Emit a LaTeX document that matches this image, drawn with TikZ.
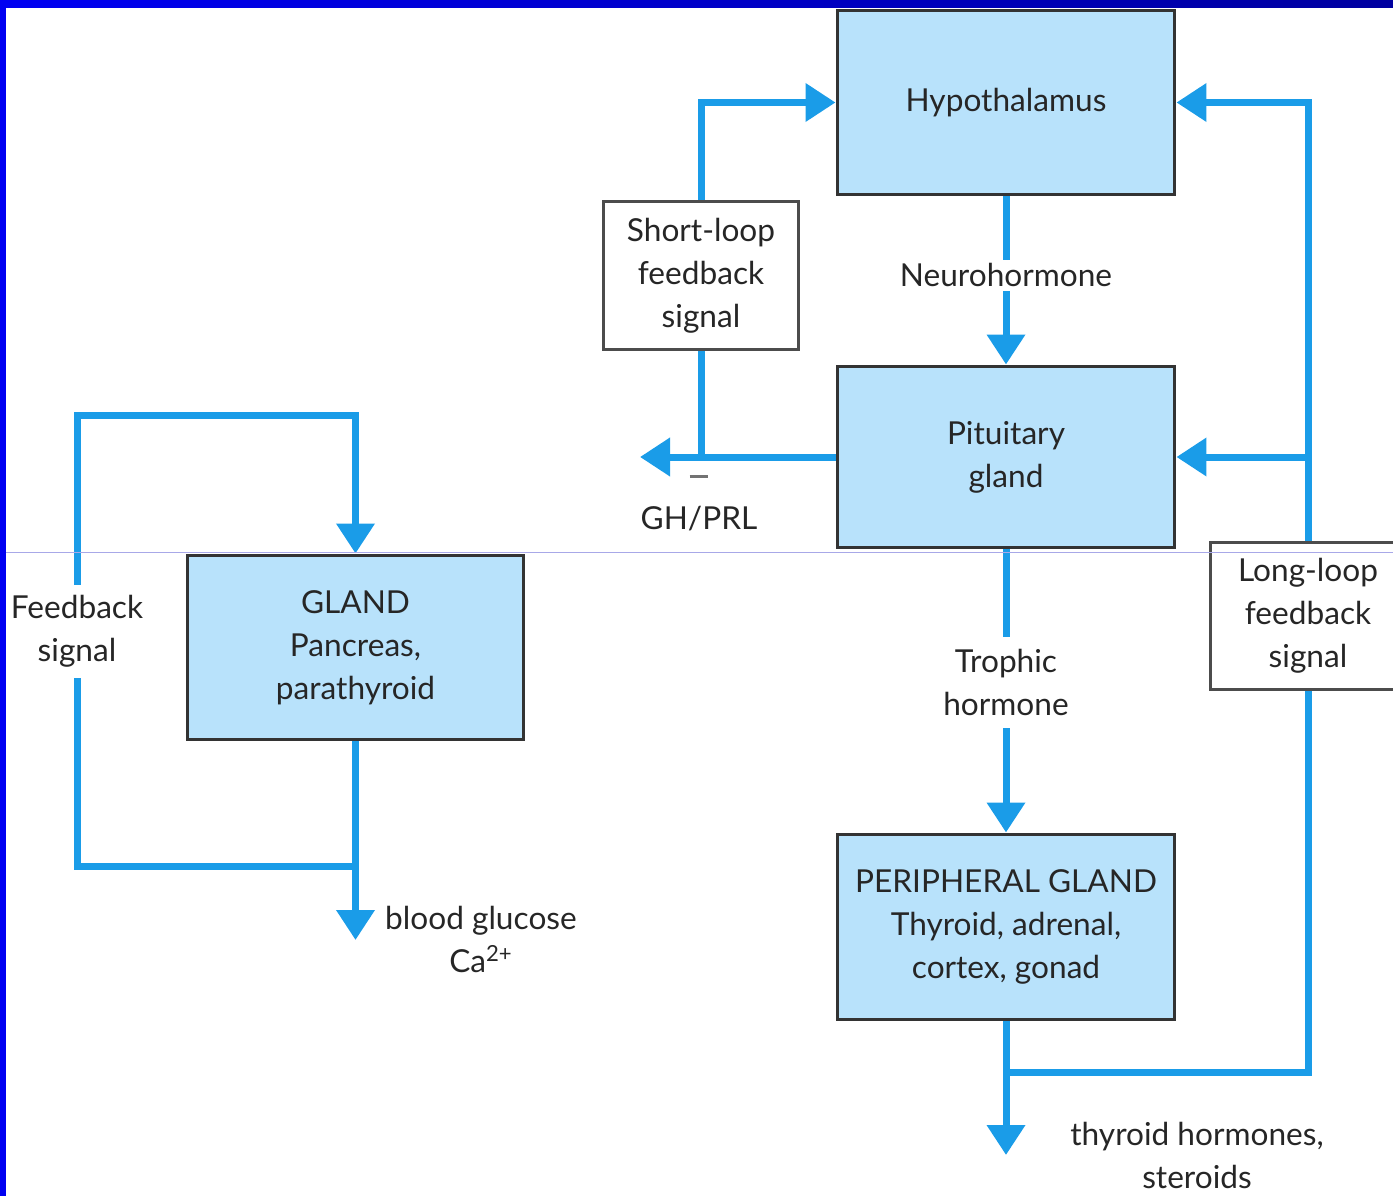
\documentclass[tikz,border=0pt]{standalone}
\usepackage{fontspec}
\setmainfont{Lato}
\usetikzlibrary{arrows.meta}

\definecolor{flowblue}{HTML}{1A9CE8}
\definecolor{boxblue}{HTML}{B8E2FB}
\definecolor{boxline}{HTML}{333333}
\definecolor{frameblue}{HTML}{0000F2}
\definecolor{framedark}{HTML}{0000A0}
\definecolor{scanline}{HTML}{A8A8E8}

\tikzset{
  gland box/.style={draw=boxline, fill=boxblue, line width=0.06cm, inner sep=0pt,
    minimum width=6.76cm, minimum height=3.7cm, align=center, text=black!85},
  signal box/.style={draw=black!70, fill=white, line width=0.06cm, inner sep=0pt,
    align=center, text=black!85},
  flow/.style={draw=flowblue, line width=0.14cm, -{Triangle[width=0.74cm,length=0.6cm]}},
  wire/.style={draw=flowblue, line width=0.14cm},
  lbl/.style={align=center, text=black!85, inner sep=2pt},
}

\begin{document}
\begin{tikzpicture}[x=0.02cm, y=-0.02cm, font=\fontsize{18}{24.5}\selectfont]
        \useasboundingbox (0,0) rectangle (1393,1196);
        \clip (0,0) rectangle (1393,1196);

        % boxes
        \node[gland box] (hyp) at (1006,102.5) {Hypothalamus};
        \node[gland box, minimum height=3.64cm] (pit) at (1006,457) {Pituitary\\gland};
        \node[gland box, minimum height=3.72cm] (per) at (1006,927) {PERIPHERAL GLAND\\Thyroid, adrenal,\\cortex, gonad};
        \node[gland box, minimum width=6.74cm] (gland) at (355.5,647.5) {GLAND\\Pancreas,\\parathyroid};
        \node[signal box, minimum width=3.92cm, minimum height=2.98cm] (short) at (701,275.5) {Short-loop\\feedback\\signal};
        \node[signal box, minimum width=3.9cm, minimum height=2.96cm] (long) at (1308,616) {Long-loop\\feedback\\signal};

        \coordinate (gh) at (640,457);
        \coordinate (sj) at (701,457);
        \coordinate (pout) at (1006,1155);
        \coordinate (pj) at (1006,1072);
        \coordinate (lj) at (1308,457);
        \coordinate (gout) at (355.5,940);
        \coordinate (gj) at (355.5,866);
        \coordinate (fbtop) at (77,415);

        % main axis
        \draw[flow] (hyp) -- node[lbl, fill=white, pos=0.47] (neuro) {Neurohormone} (pit);
        \draw[flow] (pit) -- node[lbl, fill=white, pos=0.47, inner sep=7pt] (trophic) {Trophic\\hormone} (per);
        \draw[flow] (per) -- (pout);

        % long loop
        \draw[wire] (pj) -| (long.south);
        \draw[flow] (long.north) |- (hyp.east);
        \draw[flow] (lj) -- (pit.east);

        % short loop
        \draw[flow] (pit.west) -- (gh);
        \draw[wire] (sj) -- (short.south);
        \draw[flow] (short.north) |- (hyp.west);

        % gland loop
        \draw[flow] (gland.south) -- (gout);
        \draw[flow] (gj) -| node[lbl, fill=white, pos=0.76, inner sep=6pt] (fb) {Feedback\\signal} (fbtop) -| (gland.north);

        % labels
        \node[lbl] (ghprl) at (699,503) {{\color{black!55}\rule[0.25em]{0.6em}{0.1em}}\\GH/PRL};
        \node[lbl] (glucose) at (481,939) {blood glucose\\Ca\textsuperscript{2+}};
        \node[lbl] (thyroid) at (1197,1155) {thyroid hormones,\\steroids};

        \draw[scanline, line width=0.02cm] (6,552) -- (1393,552);

        % frame
        \fill[left color=frameblue, right color=framedark] (0,0) rectangle (1393,8);
        \fill[frameblue] (0,0) rectangle (6,1196);
\end{tikzpicture}
\end{document}
